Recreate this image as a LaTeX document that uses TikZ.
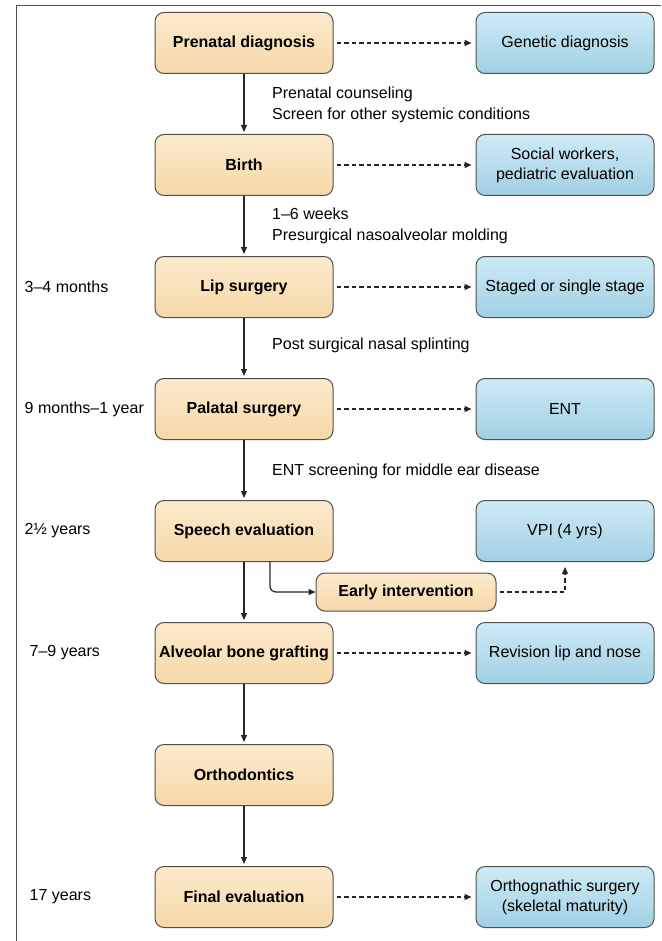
\documentclass[tikz,border=0pt]{standalone}
\usepackage{fontspec}
\setmainfont{Liberation Sans}
\usepackage{tikz}
\usetikzlibrary{arrows.meta, positioning, calc}
\definecolor{stagetop}{RGB}{252,234,204}
\definecolor{stagebot}{RGB}{246,216,168}
\definecolor{referTop}{RGB}{206,234,245}
\definecolor{referBot}{RGB}{160,208,228}
\definecolor{edgegray}{RGB}{80,80,80}

\begin{document}
\begin{tikzpicture}[x=1pt, y=1pt,
    node distance=60pt and 142pt,
    % ── Box styles ──
    stage/.style={rectangle, draw=edgegray, line width=1pt,
                  top color=stagetop, bottom color=stagebot,
                  rounded corners=9pt, minimum width=178pt, minimum height=61pt,
                  align=center, font=\fontsize{16}{19}\selectfont\bfseries},
    refer/.style={rectangle, draw=edgegray, line width=1pt,
                  top color=referTop, bottom color=referBot,
                  rounded corners=9pt, minimum width=178pt, minimum height=61pt,
                  align=center, font=\fontsize{16}{20}\selectfont},
    minor/.style={stage, minimum width=180pt, minimum height=38pt},
    note/.style={font=\fontsize{16}{21.5}\selectfont, align=left, anchor=west, inner sep=0pt},
    age/.style={font=\fontsize{16}{19}\selectfont, anchor=west, inner sep=0pt},
    arr/.style={-{Triangle[length=7pt, width=6pt]}, line width=1.2pt, black!85},
    dasharr/.style={-{Triangle[length=7pt, width=6pt]}, line width=1.3pt, black!85,
                    dash pattern=on 4.5pt off 3pt}
]
\useasboundingbox (0,0) rectangle (661,-941);
\draw[line width=0.8pt, edgegray] (16,-941) -- (16,-5) -- (661,-5);

% ═══ Main column ═══
\node[stage] (prenatal) at (244,-43) {Prenatal diagnosis};
\node[stage, below=of prenatal] (birth)    {Birth};
\node[stage, below=of birth]    (lip)      {Lip surgery};
\node[stage, below=of lip]      (palate)   {Palatal surgery};
\node[stage, below=of palate]   (speech)   {Speech evaluation};
\node[stage, below=of speech]   (graft)    {Alveolar bone grafting};
\node[stage, below=of graft]    (ortho)    {Orthodontics};
\node[stage, below=of ortho]    (final)    {Final evaluation};

% ═══ Referral column ═══
\node[refer, right=of prenatal] (genetic)  {Genetic diagnosis};
\node[refer, right=of birth]    (social)   {Social workers,\\pediatric evaluation};
\node[refer, right=of lip]      (staged)   {Staged or single stage};
\node[refer, right=of palate]   (ent)      {ENT};
\node[refer, right=of speech]   (vpi)      {VPI (4 yrs)};
\node[refer, right=of graft]    (revision) {Revision lip and nose};
\node[refer, right=of final]    (orthog)   {Orthognathic surgery\\(skeletal maturity)};

\node[minor] (early) at ($(speech.south)+(162,-30)$) {Early intervention};

% ═══ Main-flow arrows ═══
\draw[arr, shorten >=2pt] (prenatal) -- (birth);
\draw[arr, shorten >=2pt] (birth) -- (lip);
\draw[arr, shorten >=2pt] (lip) -- (palate);
\draw[arr, shorten >=2pt] (palate) -- (speech);
\draw[arr, shorten >=2pt] (speech) -- (graft);
\draw[arr, shorten >=2pt] (graft) -- (ortho);
\draw[arr, shorten >=2pt] (ortho) -- (final);
\draw[arr, rounded corners=6pt] ([xshift=26pt]speech.south) |- (early.west);

% ═══ Referral arrows ═══
\draw[dasharr, shorten <=3pt, shorten >=4pt] (prenatal) -- (genetic);
\draw[dasharr, shorten <=3pt, shorten >=4pt] (birth) -- (social);
\draw[dasharr, shorten <=3pt, shorten >=4pt] (lip) -- (staged);
\draw[dasharr, shorten <=3pt, shorten >=4pt] (palate) -- (ent);
\draw[dasharr, shorten <=3pt, shorten >=4pt] (graft) -- (revision);
\draw[dasharr, shorten <=3pt, shorten >=4pt] (final) -- (orthog);
\draw[dasharr, shorten <=3pt, shorten >=5pt] (early.east) -| (vpi.south);

% ═══ Step notes ═══
\node[note] (n1) at ($(prenatal.south)!0.5!(birth.north)+(28,-1)$)
  {Prenatal counseling\\Screen for other systemic conditions};
\node[note] (n2) at ($(birth.south)!0.5!(lip.north)+(28,0)$)
  {1--6 weeks\\Presurgical nasoalveolar molding};
\node[note] (n3) at ($(lip.south)!0.5!(palate.north)+(28,3)$)
  {Post surgical nasal splinting};
\node[note] (n4) at ($(palate.south)!0.5!(speech.north)+(28,-1)$)
  {ENT screening for middle ear disease};

% ═══ Age labels ═══
\node[age] (a1) at ([xshift=-130pt]lip.west)    {3--4 months};
\node[age] (a2) at ([xshift=-130pt]palate.west) {9 months--1 year};
\node[age] (a3) at ([xshift=-130pt]speech.west) {2½ years};
\node[age] (a4) at ([xshift=-125pt]graft.west)  {7--9 years};
\node[age] (a5) at ([xshift=-125pt]final.west)  {17 years};

\end{tikzpicture}
\end{document}
